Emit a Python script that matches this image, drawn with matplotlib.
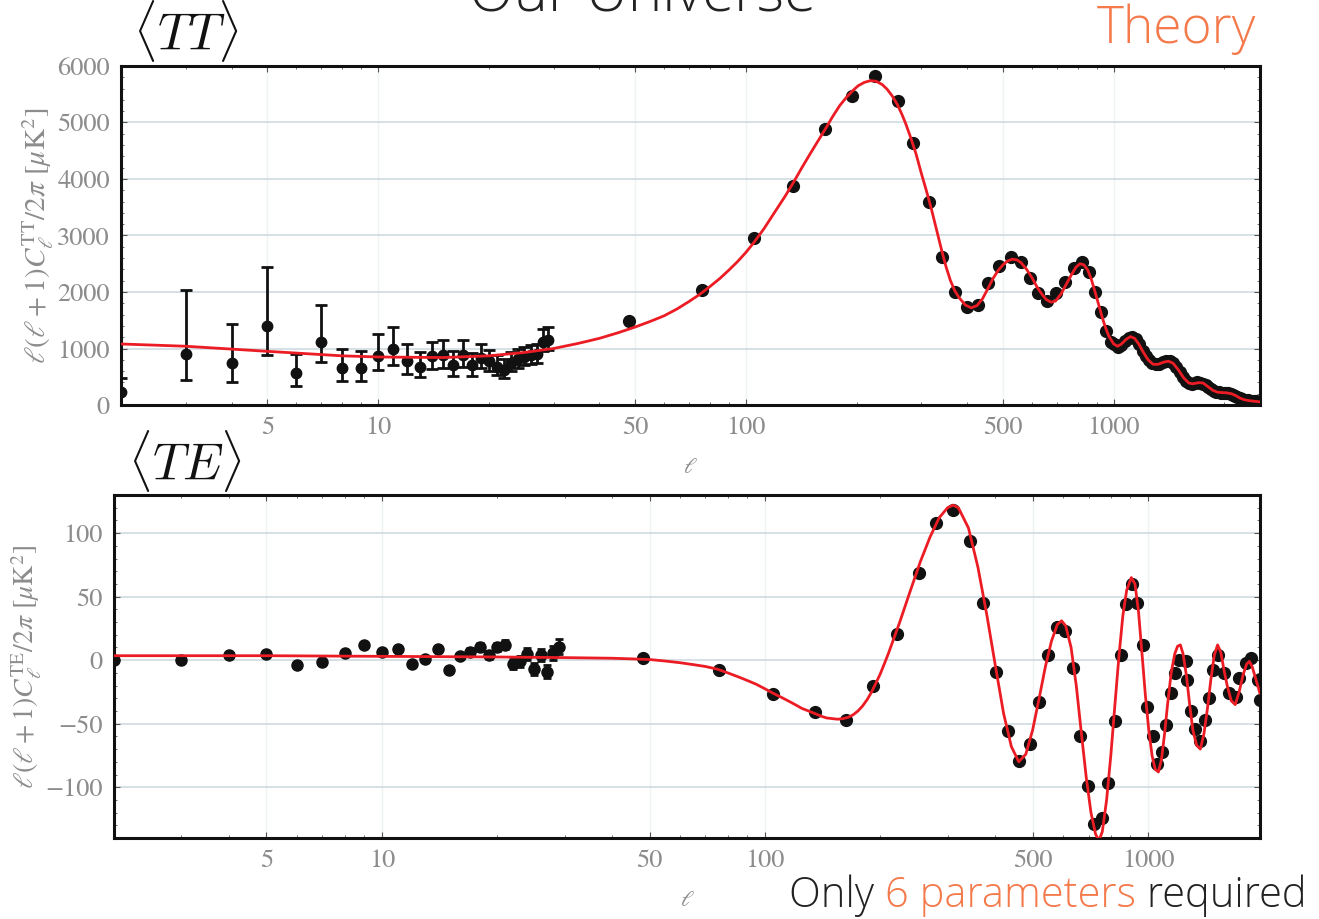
import numpy as np
import matplotlib.pyplot as plt
from matplotlib.ticker import NullFormatter, LogLocator, MultipleLocator

plt.rcParams['mathtext.fontset'] = 'stix'

# --- TT data (low ell, with error bars) ---
tt_low_l = [2, 3, 4, 5, 6, 7, 8, 9, 10, 11, 12, 13, 14, 15, 16, 17, 18, 19, 20,
            21, 22, 23, 24, 25, 26, 27, 28, 29]
tt_low_d = [230, 900, 750, 1400, 560, 1120, 650, 650, 870, 1000, 770, 680, 860, 880,
            700, 890, 700, 830, 770, 680, 620, 750, 820, 850, 880, 900, 1120, 1150]
tt_low_lo = [0, 450, 400, 880, 330, 760, 430, 430, 620, 700, 550, 490, 640, 660,
             510, 680, 520, 650, 600, 530, 480, 600, 660, 700, 730, 750, 960, 980]
tt_low_hi = [480, 2030, 1430, 2450, 900, 1770, 1000, 950, 1250, 1380, 1080, 930, 1110,
             1150, 950, 1150, 920, 1080, 980, 880, 810, 930, 1000, 1030, 1060, 1080,
             1350, 1380]

# --- TT binned data (high ell) ---
tt_hi_l = [48, 76, 105, 134, 164, 194, 224, 259, 284, 314, 341, 370, 398, 427, 455,
           487, 525, 559, 591, 621, 657, 696, 736, 778, 818, 855, 888, 922, 951, 982,
           1000, 1025, 1050, 1075, 1100, 1125, 1150, 1175, 1200, 1225, 1250, 1275,
           1300, 1330, 1360, 1390, 1420, 1450, 1480, 1510, 1540, 1570, 1600, 1630,
           1660, 1690, 1720, 1750, 1780, 1810, 1840, 1870, 1900, 1930, 1960, 1990,
           2020, 2050, 2080, 2110, 2140, 2170, 2200, 2240, 2280, 2320, 2360, 2400,
           2440, 2480]
tt_hi_d = [1490, 2035, 2956, 3876, 4885, 5469, 5823, 5380, 4637, 3593, 2620, 2000,
           1735, 1770, 2160, 2460, 2620, 2530, 2250, 1980, 1840, 1980, 2180, 2420,
           2530, 2350, 2000, 1646, 1310, 1120,
           1080, 1030, 1070, 1140, 1190, 1210, 1170, 1080, 960, 860, 790, 735,
           720, 730, 760, 780, 770, 740, 680, 590, 500, 430, 390, 378,
           390, 400, 395, 380, 350, 310, 280, 250, 232, 222, 216, 215,
           212, 205, 195, 180, 160, 140, 122, 100, 90, 80, 75, 70,
           65, 60]

# --- TT theory ---
tt_th_l = [2, 3, 5, 8, 10, 15, 20, 25, 30, 35, 40, 45, 50, 55, 60, 65, 70, 75, 80,
           85, 90, 95, 100, 105, 112, 120, 128, 135, 142, 150, 158, 165, 172, 180,
           188, 195, 202, 210, 218, 226, 235, 242, 250, 258, 265, 272, 280, 290, 300,
           310, 320, 330, 340, 350, 360, 370, 380, 395, 410, 425, 440, 455, 470, 485,
           500, 515, 530, 545, 560, 580, 600, 620, 640, 655, 675, 695, 720, 745, 770,
           790, 810, 830, 850, 870, 890, 910, 930, 950, 970,
           1000, 1025, 1050, 1080, 1110, 1140, 1170, 1200, 1240, 1280, 1320, 1370,
           1410, 1450, 1500, 1550, 1600, 1640, 1700, 1750, 1800, 1860, 1920, 1970,
           2030, 2090, 2150, 2200, 2260, 2330, 2400, 2500]
tt_th_d = [1080, 1040, 950, 870, 850, 840, 870, 930, 1000, 1090, 1180, 1280, 1380,
           1480, 1580, 1700, 1830, 1960, 2100, 2240, 2390, 2540, 2700, 2870, 3120,
           3420, 3700, 3950, 4200, 4460, 4700, 4900, 5100, 5300, 5450, 5560, 5650,
           5710, 5740, 5730, 5670, 5590, 5470, 5320, 5160, 4980, 4750, 4450, 4100,
           3780, 3450, 3100, 2760, 2450, 2200, 2020, 1900, 1770, 1720, 1760, 1880,
           2060, 2240, 2380, 2480, 2550, 2580, 2570, 2520, 2400, 2250, 2080, 1950,
           1870, 1820, 1840, 1970, 2150, 2320, 2440, 2500, 2480, 2390, 2220, 2000,
           1780, 1560, 1370, 1220,
           1080, 1040, 1080, 1160, 1210, 1180, 1080, 950, 800, 720, 720, 760,
           775, 740, 620, 480, 390, 375, 395, 390, 330, 260, 225, 220,
           215, 200, 165, 125, 95, 78, 68, 55]

# --- TE data ---
te_low_l = [2, 3, 4, 5, 6, 7, 8, 9, 10, 11, 12, 13, 14, 15, 16, 17, 18, 19, 20, 21,
            22, 23, 24, 25, 26, 27, 28, 29]
te_low_d = [0, 0, 4, 5, -4, -1.3, 5.8, 12, 6.5, 9, -3.4, 0.8, 8.4, -8, 3, 6.5, 10.5,
            4, 10.5, 12, -3, -1, 5, -7, 4, -9, 5.5, 10.5]
te_low_err = [1, 1, 1.5, 1.5, 1.5, 1.5, 1.5, 1.5, 1.5, 1.5, 1.5, 1.5, 2, 2, 2, 3, 3,
              3, 3, 3.5, 4, 4, 4.5, 4.5, 5, 5, 5.5, 6]

te_hi_l = [48, 76, 105, 135, 163, 192, 221, 252, 280, 310, 343, 370, 401, 430, 461,
           492, 520, 550, 578, 608, 637, 666, 698, 725, 760, 786, 820, 848, 874, 906,
           937, 970, 996, 1030, 1054, 1090, 1116, 1151, 1175, 1206, 1256, 1268, 1299,
           1326, 1366, 1407, 1445, 1475, 1520, 1584, 1631, 1698, 1731, 1802, 1857,
           1933, 1960]
te_hi_d = [1.3, -8, -27, -41, -47, -20.5, 20.5, 68.7, 108, 118.5, 94, 45, -9, -56,
           -79, -66, -33, 4, 26, 23, -6, -60, -99, -129, -124, -97, -48, 4, 44, 60,
           45, 12, -37, -60, -82, -72, -51, -26, -10, 0.4, -1, -15.5, -40, -54, -64,
           -47, -30, -7.5, 4, -10, -26, -29, -14, -2, 1.6, -16, -31]

# --- TE theory ---
te_th_l = [2, 5, 10, 20, 30, 40, 45, 50, 55, 60, 65, 70, 75, 80, 85, 90, 95, 100,
           105, 110, 115, 120, 125, 130, 135, 140, 145, 150, 155, 160, 165, 170, 175,
           180, 185, 190, 195, 200, 205, 210, 225, 240, 255, 270, 285, 300, 310, 320,
           340, 360, 380, 400, 420, 440, 460, 480, 500, 520, 540, 560, 580, 595, 610,
           630, 650, 670, 690, 710, 730, 745, 760, 780, 800, 820, 840, 860, 880, 905,
           925, 945, 965, 985, 1005, 1025, 1045, 1065, 1085, 1105, 1125, 1150, 1175,
           1195, 1215, 1235, 1260, 1285, 1310, 1340, 1370, 1400, 1430, 1460, 1490,
           1520, 1550, 1580, 1610, 1650, 1690, 1730, 1770, 1810, 1840, 1870, 1900,
           1960]
te_th_d = [3.5, 3.5, 3, 2.5, 2, 1.5, 1, 0.5, -0.7, -2, -3.5, -5, -7, -10, -13, -16,
           -19, -22.5, -26, -29, -32, -35, -38, -40, -42, -44, -45.5, -46, -46.5, -46,
           -45, -43, -40, -36, -31, -25, -18, -11, -3, 5, 30, 55, 78, 97, 112, 120,
           122, 120, 104, 73, 35, -5, -42, -68, -80, -74, -55, -30, -5, 15, 28, 31,
           27, 10, -20, -57, -92, -120, -137, -142, -135, -110, -75, -35, 3, 35, 55,
           65, 60, 38, 5, -28, -55, -75, -86, -88, -78, -58, -35, -10, 5, 11, 12, 5,
           -12, -35, -55, -67, -70, -58, -38, -15, 4, 12, 6, -8, -20, -32, -35, -25,
           -12, -3, -1, -5, -12, -26]

ORANGE = '#f47a4c'
RED = '#ec1c24'
GRAY = '#8c8c8c'
TICKS = [5, 10, 50, 100, 500, 1000]
SANS = ['Open Sans', 'Roboto', 'DejaVu Sans']

fig = plt.figure(figsize=(13.19, 9.19), dpi=100)
ax1 = fig.add_axes([0.0917, 0.5593, 0.8636, 0.3689])
ax2 = fig.add_axes([0.0864, 0.0881, 0.8688, 0.3733])


def style(ax, xmax):
    ax.set_xscale('log')
    ax.set_xlim(2, xmax)
    ax.set_xticks(TICKS)
    ax.set_xticklabels([str(t) for t in TICKS])
    ax.xaxis.set_minor_locator(LogLocator(base=10, subs=np.arange(2, 10)))
    ax.xaxis.set_minor_formatter(NullFormatter())
    for s in ax.spines.values():
        s.set_linewidth(2.2)
        s.set_color('#111111')
    ax.tick_params(which='both', direction='in', top=True, right=True,
                   labelcolor=GRAY, labelsize=19, color='#555555')
    ax.tick_params(which='major', length=4, pad=8)
    ax.tick_params(which='minor', length=2.5)
    for lab in ax.get_xticklabels() + ax.get_yticklabels():
        lab.set_family('STIXGeneral')
    ax.grid(axis='y', which='major', color='#d3dde2', lw=1.3)
    ax.grid(axis='x', which='major', color='#eef2f4', lw=1.0)
    ax.set_axisbelow(True)
    ax.set_xlabel(r'$\ell$', color=GRAY, fontsize=16, labelpad=12)


# top panel: TT
err_lo = np.array(tt_low_d) - np.array(tt_low_lo)
err_hi = np.array(tt_low_hi) - np.array(tt_low_d)
ax1.errorbar(tt_low_l, tt_low_d, yerr=[err_lo, err_hi], fmt='o', color='#111111',
             ms=7.5, elinewidth=2, capsize=4, capthick=2, zorder=3)
ax1.plot(tt_hi_l, tt_hi_d, 'o', color='#111111', ms=8.5, zorder=3)
ax1.plot(tt_th_l, tt_th_d, color=RED, lw=2, zorder=4)
ax1.set_ylim(0, 6000)
ax1.set_yticks([0, 1000, 2000, 3000, 4000, 5000, 6000])
ax1.yaxis.set_minor_locator(MultipleLocator(200))
style(ax1, 2500)
ax1.set_ylabel(r'$\ell(\ell+1)C_\ell^{\rm TT}/2\pi\ [\mu{\rm K}^2]$', color=GRAY,
               fontsize=21, labelpad=1)

# bottom panel: TE
ax2.errorbar(te_low_l, te_low_d, yerr=te_low_err, fmt='o', color='#111111', ms=8,
             elinewidth=2, capsize=3, capthick=2, zorder=3)
ax2.plot(te_hi_l, te_hi_d, 'o', color='#111111', ms=8.5, zorder=3)
ax2.plot(te_th_l, te_th_d, color=RED, lw=2, zorder=4)
ax2.set_ylim(-140, 130)
ax2.set_yticks([-100, -50, 0, 50, 100])
ax2.set_yticklabels(['\u2212100', '\u221250', '0', '50', '100'])
ax2.yaxis.set_minor_locator(MultipleLocator(10))
style(ax2, 1960)
ax2.set_ylabel(r'$\ell(\ell+1)C_\ell^{\rm TE}/2\pi\ [\mu{\rm K}^2]$', color=GRAY,
               fontsize=20, labelpad=1)

# panel tags and slide text
fig.text(0.101, 1 - 64 / 919, r'$\langle TT\rangle$', fontsize=37, color='#111111',
         va='bottom', math_fontfamily='cm')
fig.text(0.097, 1 - 494 / 919, r'$\langle TE\rangle$', fontsize=37, color='#111111',
         va='bottom', math_fontfamily='cm')
fig.text(0.487, 1 - 12 / 919, 'Our Universe', fontsize=42, color='#222222',
         ha='center', va='baseline', family=SANS, weight='light')
fig.text(0.952, 1 - 43 / 919, 'Theory', fontsize=37, color=ORANGE,
         ha='right', va='baseline', family=SANS, weight='light')

# bottom caption with coloured middle part
cap_y = 1 - 907 / 919
t1 = fig.text(0.598, cap_y, 'Only ', fontsize=30, color='#222222',
              family=SANS, weight='light', va='baseline')
fig.canvas.draw()
r = fig.canvas.get_renderer()
bb = t1.get_window_extent(renderer=r)
x = bb.x1 / fig.bbox.width
t2 = fig.text(x, cap_y, '6 parameters', fontsize=30, color=ORANGE,
              family=SANS, weight='light', va='baseline')
bb = t2.get_window_extent(renderer=r)
x = bb.x1 / fig.bbox.width
fig.text(x, cap_y, ' required', fontsize=30, color='#222222',
         family=SANS, weight='light', va='baseline')

fig.savefig('out.png', dpi=100, facecolor='white')
